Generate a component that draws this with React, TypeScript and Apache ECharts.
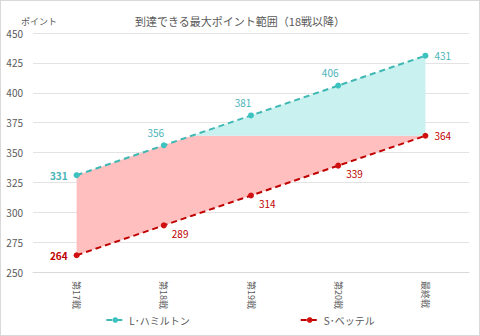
import React, { useEffect, useRef } from "react";
import * as echarts from "echarts";

const categories = ["第17戦", "第18戦", "第19戦", "第20戦", "最終戦"];
const hamilton = [331, 356, 381, 406, 431];
const vettel = [264, 289, 314, 339, 364];
const yTicks = { min: 250, max: 450, interval: 25 };
const seriesNames = ["L･ハミルトン", "S･ベッテル"];

const TEAL = "#3fb8b4";
const TEAL_TEXT = "#4bb3b8";
const RED = "#c00000";
const FONT = "'Noto Sans CJK JP', 'Noto Sans', sans-serif";

export default function App() {
  const ref = useRef<HTMLDivElement>(null);
  useEffect(() => {
    if (!ref.current) return;
    const chart = echarts.init(ref.current, null, { renderer: "svg" });
    const cap = vettel[vettel.length - 1];

    const renderItem = (params: any, api: any) => {
      const pt = (i: number, v: number) => api.coord([i, v]);
      const lerp = (a: number[], b: number[], t: number) => [a[0] + (b[0] - a[0]) * t, a[1] + (b[1] - a[1]) * t];
      const top: number[][] = [];
      const cyanTop: number[][] = [];
      let crossing: number[] | null = null;
      for (let i = 0; i < hamilton.length; i++) {
        if (i > 0 && hamilton[i - 1] < cap && hamilton[i] > cap) {
          const t = (cap - hamilton[i - 1]) / (hamilton[i] - hamilton[i - 1]);
          crossing = lerp(pt(i - 1, cap), pt(i, cap), t);
          const hp = lerp(pt(i - 1, hamilton[i - 1]), pt(i, hamilton[i]), t);
          top.push(hp);
          cyanTop.push(hp);
        }
        top.push(pt(i, Math.min(hamilton[i], cap)));
        if (hamilton[i] > cap) cyanTop.push(pt(i, hamilton[i]));
      }
      const bottom: number[][] = [];
      for (let i = vettel.length - 1; i >= 0; i--) bottom.push(pt(i, vettel[i]));
      const children: any[] = [
        { type: "polygon", shape: { points: top.concat(bottom) }, style: { fill: "#ffbfbf" } },
      ];
      if (cyanTop.length) {
        const last = hamilton.length - 1;
        const cyanPts = cyanTop.concat([pt(last, cap)]);
        if (crossing) cyanPts.push(crossing);
        children.push({ type: "polygon", shape: { points: cyanPts }, style: { fill: "#c9f1ef" } });
      }
      return { type: "group", children };
    };

    const hamData = hamilton.map((v, i) => {
      let label: any;
      if (i === 0) label = { position: "left", fontWeight: "bold", distance: 6 };
      else if (i === hamilton.length - 1) label = { position: "right", distance: 6 };
      else label = { position: "top", offset: [-8, 0] };
      return { value: v, label };
    });
    const vetData = vettel.map((v, i) => {
      let label: any;
      if (i === 0) label = { position: "left", fontWeight: "bold", distance: 6 };
      else if (i === vettel.length - 1) label = { position: "right", distance: 6 };
      else label = { position: "right", offset: [0, 8] };
      return { value: v, label };
    });

    chart.setOption({
      animation: false,
      textStyle: { fontFamily: FONT },
      title: [
        {
          text: "到達できる最大ポイント範囲（18戦以降）",
          left: "center",
          top: 9,
          textStyle: { fontSize: 11, fontWeight: "normal", color: "#595959", fontFamily: FONT },
        },
        {
          text: "ポイント",
          left: 15,
          top: 11,
          textStyle: { fontSize: 9, fontWeight: "normal", color: "#595959", fontFamily: FONT },
        },
      ],
      grid: { left: 32, right: 10, top: 32, bottom: 63 },
      legend: {
        bottom: 5,
        left: "center",
        itemGap: 110,
        itemWidth: 18,
        itemHeight: 7,
        data: seriesNames,
        textStyle: { color: "#595959", fontSize: 10, fontFamily: FONT },
      },
      xAxis: {
        type: "category",
        data: categories,
        boundaryGap: true,
        axisLine: { lineStyle: { color: "#d9d9d9" } },
        axisTick: { show: false },
        axisLabel: { rotate: -90, color: "#595959", fontSize: 9, margin: 9, fontFamily: FONT },
      },
      yAxis: {
        type: "value",
        min: yTicks.min,
        max: yTicks.max,
        interval: yTicks.interval,
        axisLine: { show: false },
        axisTick: { show: false },
        axisLabel: { color: "#595959", fontSize: 10, margin: 10 },
        splitLine: { lineStyle: { color: "#e3e3e3" } },
      },
      series: [
        {
          type: "custom",
          renderItem,
          data: [[0, 0]],
          silent: true,
          z: 1,
          encode: { x: 0, y: 1 },
        },
        {
          name: seriesNames[0],
          type: "line",
          data: hamData,
          z: 3,
          symbol: "circle",
          symbolSize: 6,
          lineStyle: { color: TEAL, width: 2, type: [6, 4] },
          itemStyle: { color: "#3cc3c0" },
          label: { show: true, color: TEAL_TEXT, fontSize: 10 },
        },
        {
          name: seriesNames[1],
          type: "line",
          data: vetData,
          z: 3,
          symbol: "circle",
          symbolSize: 6,
          lineStyle: { color: RED, width: 2, type: [6, 4] },
          itemStyle: { color: "#d01010" },
          label: { show: true, color: RED, fontSize: 10 },
        },
      ],
    });
    return () => chart.dispose();
  }, []);
  return (
    <div
      ref={ref}
      style={{
        position: "fixed",
        left: 0,
        top: 0,
        width: 480,
        height: 336,
        boxSizing: "border-box",
        border: "1px solid #d9d9d9",
        background: "#fff",
      }}
    />
  );
}
